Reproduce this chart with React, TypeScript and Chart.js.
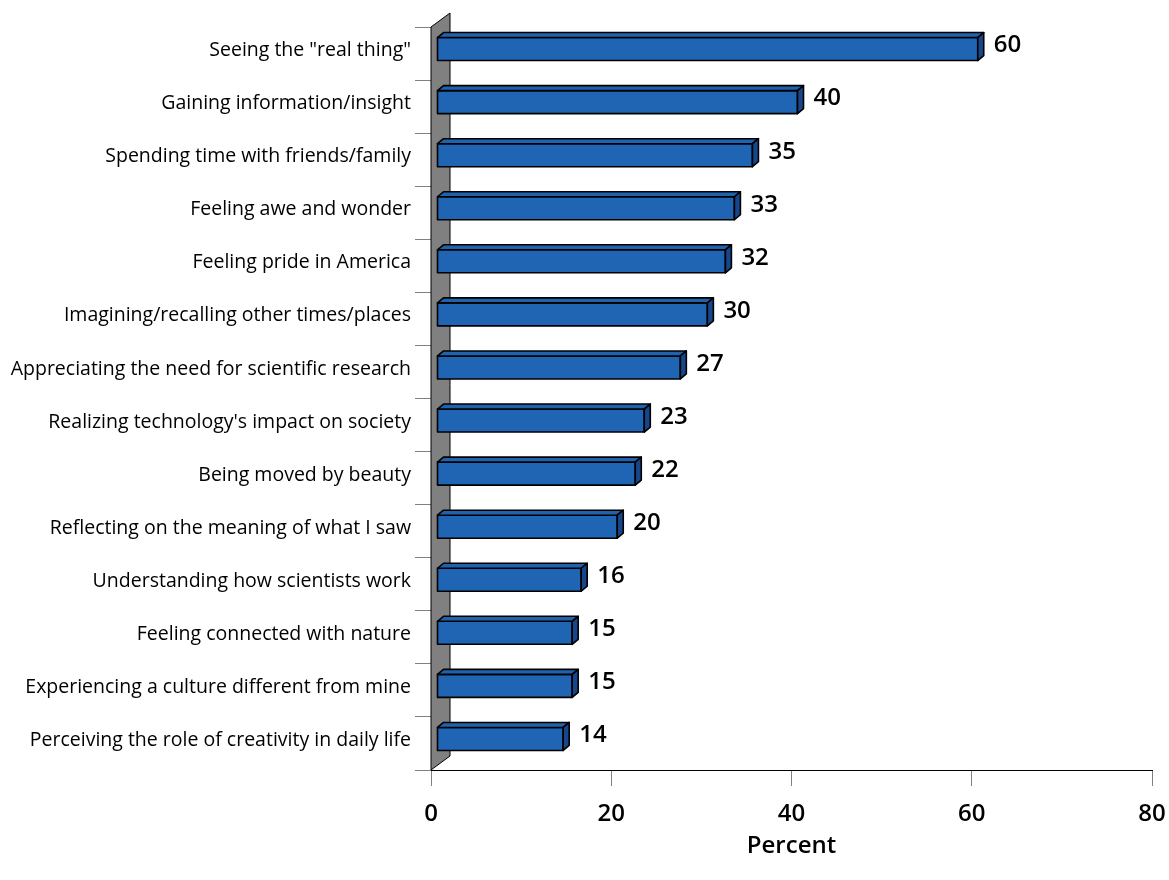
import React, { useEffect, useRef } from "react";
import { Chart, registerables } from "chart.js";

Chart.register(...registerables);

const categories = [
  'Seeing the "real thing"',
  "Gaining information/insight",
  "Spending time with friends/family",
  "Feeling awe and wonder",
  "Feeling pride in America",
  "Imagining/recalling other times/places",
  "Appreciating the need for scientific research",
  "Realizing technology's impact on society",
  "Being moved by beauty",
  "Reflecting on the meaning of what I saw",
  "Understanding how scientists work",
  "Feeling connected with nature",
  "Experiencing a culture different from mine",
  "Perceiving the role of creativity in daily life",
];

const percents = [60, 40, 35, 33, 32, 30, 27, 23, 22, 20, 16, 15, 15, 14];

const xTickValues = [0, 20, 40, 60, 80];

const FONT = "'Open Sans', 'Liberation Sans', sans-serif";

// 3D look parameters (pixels)
const BAR_SHIFT_X = 6;
const BAR_SHIFT_Y = -4.5;
const BAR_DEPTH_X = 6;
const BAR_DEPTH_Y = -5;
const WALL_DEPTH_X = 19;
const WALL_DEPTH_Y = -14;

const threeDPlugin = {
  id: "threeD",
  beforeDatasetsDraw(chart: any) {
    const { ctx, chartArea, scales } = chart;
    const x0 = scales.x.getPixelForValue(0);
    const top = chartArea.top;
    const bottom = chartArea.bottom;
    ctx.save();
    ctx.beginPath();
    ctx.moveTo(x0, bottom);
    ctx.lineTo(x0, top);
    ctx.lineTo(x0 + WALL_DEPTH_X, top + WALL_DEPTH_Y);
    ctx.lineTo(x0 + WALL_DEPTH_X, bottom + WALL_DEPTH_Y);
    ctx.closePath();
    ctx.fillStyle = "#808080";
    ctx.fill();
    ctx.lineWidth = 1;
    ctx.strokeStyle = "#000000";
    ctx.stroke();
    ctx.restore();
  },
  afterDatasetsDraw(chart: any) {
    const { ctx } = chart;
    const meta = chart.getDatasetMeta(0);
    ctx.save();
    ctx.lineJoin = "round";
    meta.data.forEach((el: any, i: number) => {
      const props = el.getProps(["x", "y", "base", "height"], true);
      const xa = props.base + BAR_SHIFT_X;
      const xb = props.x + BAR_SHIFT_X;
      const ya = props.y - props.height / 2 + BAR_SHIFT_Y;
      const yb = ya + props.height;
      // front
      ctx.beginPath();
      ctx.rect(xa, ya, xb - xa, yb - ya);
      ctx.fillStyle = "#1F65B3";
      ctx.fill();
      ctx.lineWidth = 1.6;
      ctx.strokeStyle = "#000000";
      ctx.stroke();
      // top
      ctx.beginPath();
      ctx.moveTo(xa, ya);
      ctx.lineTo(xa + BAR_DEPTH_X, ya + BAR_DEPTH_Y);
      ctx.lineTo(xb + BAR_DEPTH_X, ya + BAR_DEPTH_Y);
      ctx.lineTo(xb, ya);
      ctx.closePath();
      ctx.fillStyle = "#1F62AE";
      ctx.fill();
      ctx.stroke();
      // side
      ctx.beginPath();
      ctx.moveTo(xb, ya);
      ctx.lineTo(xb + BAR_DEPTH_X, ya + BAR_DEPTH_Y);
      ctx.lineTo(xb + BAR_DEPTH_X, yb + BAR_DEPTH_Y);
      ctx.lineTo(xb, yb);
      ctx.closePath();
      ctx.fillStyle = "#17468A";
      ctx.fill();
      ctx.stroke();
      // value label
      ctx.fillStyle = "#000000";
      ctx.font = `600 24px ${FONT}`;
      ctx.textAlign = "left";
      ctx.textBaseline = "middle";
      ctx.fillText(String(percents[i]), props.x + 22, props.y - 8);
    });
    ctx.restore();
  },
};

export default function App() {
  const canvasRef = useRef<HTMLCanvasElement | null>(null);

  useEffect(() => {
    document.body.style.margin = "0";
    const canvas = canvasRef.current;
    if (!canvas) return;
    const chart = new Chart(canvas, {
      type: "bar",
      data: {
        labels: categories,
        datasets: [
          {
            data: percents,
            backgroundColor: "rgba(0,0,0,0)",
            borderWidth: 0,
            categoryPercentage: 1,
            barPercentage: 23 / 53.07,
          },
        ],
      },
      options: {
        indexAxis: "y",
        responsive: false,
        animation: false,
        layout: { padding: { top: 27, right: 17, left: 0, bottom: 0 } },
        plugins: {
          legend: { display: false },
          tooltip: { enabled: false },
        },
        scales: {
          x: {
            type: "linear",
            min: 0,
            max: 80,
            afterBuildTicks: (scale: any) => {
              scale.ticks = xTickValues.map((v) => ({ value: v }));
            },
            afterFit: (scale: any) => {
              scale.height = 110;
              scale.paddingLeft = 0;
              scale.paddingRight = 0;
            },
            grid: {
              drawOnChartArea: false,
              drawTicks: true,
              tickLength: 16,
              color: "#808080",
              lineWidth: 1,
            },
            border: { display: true, color: "#000000", width: 1 },
            ticks: {
              color: "#000000",
              font: { family: FONT, size: 24, weight: "600" },
              padding: 14,
              maxRotation: 0,
            },
            title: {
              display: true,
              text: "Percent",
              color: "#000000",
              font: { family: FONT, size: 24, weight: "600" },
              padding: { top: 0, bottom: 19 },
            },
          },
          y: {
            type: "category",
            afterFit: (scale: any) => {
              scale.width = 431;
            },
            grid: {
              drawOnChartArea: false,
              drawTicks: true,
              offset: true,
              tickLength: 16,
              lineWidth: 1,
              color: (c: any) => (c.index === categories.length ? "#000000" : "#808080"),
            },
            border: { display: false },
            ticks: {
              color: "#000000",
              font: { family: FONT, size: 19.5, weight: "500" },
              padding: 4,
              labelOffset: -3,
              autoSkip: false,
            },
          },
        },
      },
      plugins: [threeDPlugin],
    } as any);
    return () => chart.destroy();
  }, []);

  return (
    <div style={{ width: 1169, height: 880 }}>
      <canvas ref={canvasRef} width={1169} height={880} style={{ display: "block" }} />
    </div>
  );
}
